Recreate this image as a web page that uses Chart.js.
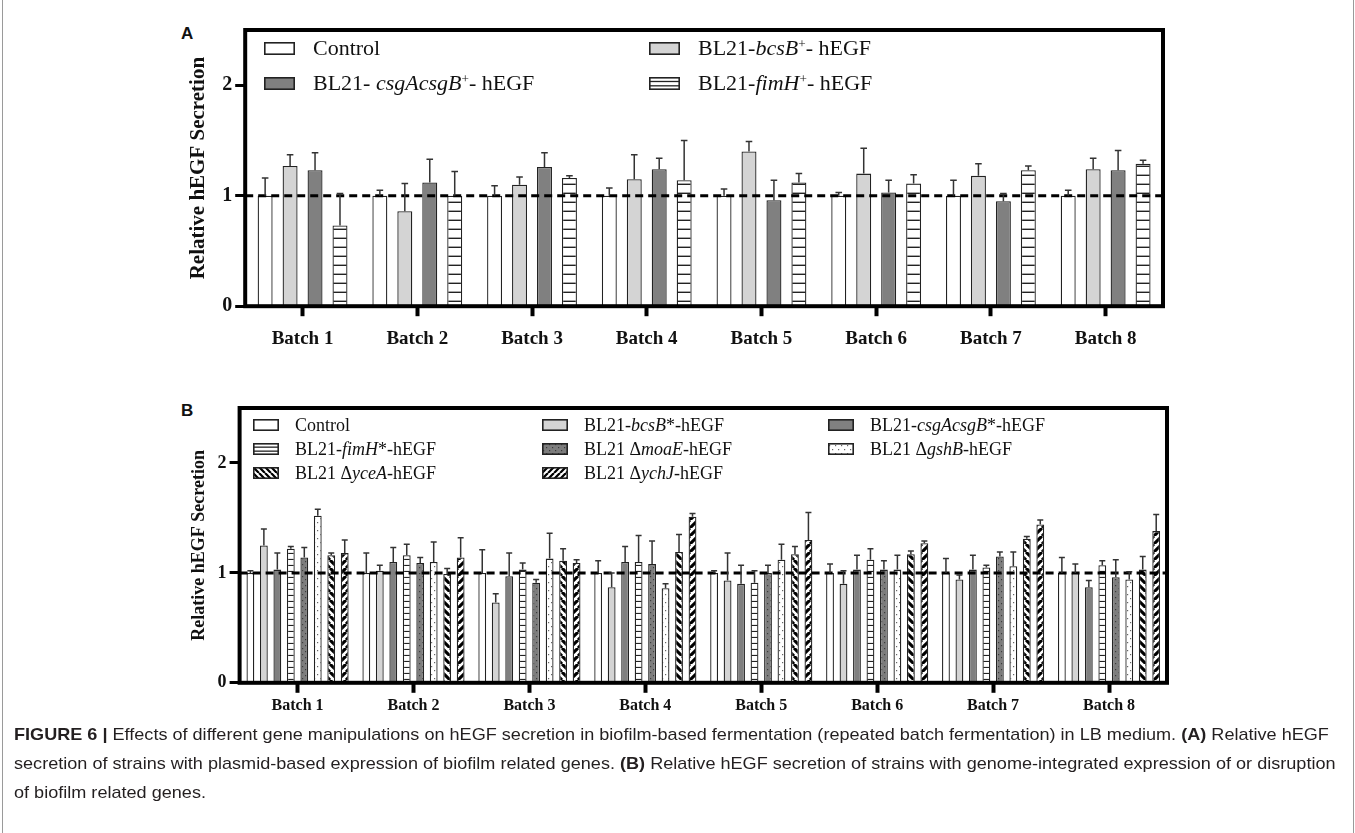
<!DOCTYPE html>
<html>
<head>
<meta charset="utf-8">
<script src="https://cdn.jsdelivr.net/npm/chart.js@4.4.0/dist/chart.umd.min.js"></script>
<style>
  body { margin: 0; background: #fff; width: 1355px; height: 833px; position: relative; overflow: hidden; font-family: "Liberation Serif", serif; color: #111; }
  .frame { position: absolute; left: 2px; top: -2px; width: 1350px; height: 840px; border-left: 1px solid #9a9a9a; border-right: 1px solid #9a9a9a; }
  .panel { position: absolute; }
  .tag { position: absolute; font: bold 17px "Liberation Sans", Arial, sans-serif; }
  .item { position: absolute; display: flex; align-items: center; white-space: nowrap; }
  .item canvas { display: block; }
  .legA { font-size: 22px; }
  .legB { font-size: 18px; }
  sup { font-size: 60%; vertical-align: 0; position: relative; top: -0.55em; }
  .caption { position: absolute; left: 14px; top: 720px; font: 17px "Liberation Sans", Arial, sans-serif; color: #231f20; transform-origin: 0 0; }
  .caption div { white-space: nowrap; height: 29px; line-height: 29px; }
</style>
</head>
<body>
<div class="frame"></div>
<div class="tag" style="left:181px; top:24px;">A</div>
<div class="tag" style="left:181px; top:401px;">B</div>
<div class="panel" style="left:140px; top:14px; width:1040px; height:351px;"><canvas id="chartA"></canvas></div>
<div class="panel" style="left:130px; top:392px; width:1050px; height:330px;"><canvas id="chartB"></canvas></div>
<div id="legends"></div>
<div class="caption" id="caption">
  <div><b>FIGURE 6 |</b> Effects of different gene manipulations on hEGF secretion in biofilm-based fermentation (repeated batch fermentation) in LB medium. <b>(A)</b> Relative hEGF</div>
  <div>secretion of strains with plasmid-based expression of biofilm related genes. <b>(B)</b> Relative hEGF secretion of strains with genome-integrated expression of or disruption</div>
  <div>of biofilm related genes.</div>
</div>
<script>
// ---- data ----
const batches = ['Batch 1', 'Batch 2', 'Batch 3', 'Batch 4', 'Batch 5', 'Batch 6', 'Batch 7', 'Batch 8'];
const yTicks = [0, 1, 2];

// panel A: plasmid-based expression
const namesA = ['Control', 'BL21-<i>bcsB</i><sup>+</sup>- hEGF', 'BL21- <i>csgAcsgB</i><sup>+</sup>- hEGF', 'BL21-<i>fimH</i><sup>+</sup>- hEGF'];
const aControl = [1, 1, 1, 1, 1, 1, 1, 1];
const aControlErr = [0.16, 0.05, 0.09, 0.07, 0.06, 0.03, 0.14, 0.05];
const aBcsB = [1.27, 0.86, 1.10, 1.15, 1.40, 1.20, 1.18, 1.24];
const aBcsBErr = [0.10, 0.25, 0.07, 0.22, 0.09, 0.23, 0.11, 0.10];
const aCsg = [1.23, 1.12, 1.26, 1.24, 0.96, 1.03, 0.95, 1.23];
const aCsgErr = [0.16, 0.21, 0.13, 0.10, 0.18, 0.11, 0.07, 0.18];
const aFimH = [0.73, 1.00, 1.16, 1.14, 1.12, 1.11, 1.23, 1.29];
const aFimHErr = [0.29, 0.22, 0.02, 0.36, 0.08, 0.08, 0.04, 0.03];

// panel B: genome-integrated expression / disruption
const namesB = ['Control', 'BL21-<i>bcsB</i>*-hEGF', 'BL21-<i>csgAcsgB</i>*-hEGF', 'BL21-<i>fimH</i>*-hEGF',
  'BL21 Δ<i>moaE</i>-hEGF', 'BL21 Δ<i>gshB</i>-hEGF', 'BL21 Δ<i>yceA</i>-hEGF', 'BL21 Δ<i>ychJ</i>-hEGF'];
const bControl = [1, 1, 1, 1, 1, 1, 1, 1];
const bControlErr = [0.02, 0.18, 0.21, 0.11, 0.02, 0.08, 0.13, 0.14];
const bBcsB = [1.25, 1.02, 0.73, 0.87, 0.93, 0.90, 0.94, 1.00];
const bBcsBErr = [0.15, 0.05, 0.08, 0.13, 0.25, 0.12, 0.04, 0.08];
const bCsg = [1.03, 1.10, 0.97, 1.10, 0.90, 1.03, 1.03, 0.87];
const bCsgErr = [0.15, 0.13, 0.21, 0.14, 0.17, 0.13, 0.13, 0.06];
const bFimH = [1.22, 1.16, 1.03, 1.10, 0.91, 1.12, 1.05, 1.07];
const bFimHErr = [0.02, 0.10, 0.06, 0.24, 0.11, 0.10, 0.02, 0.04];
const bMoaE = [1.14, 1.09, 0.91, 1.08, 1.00, 1.03, 1.15, 0.96];
const bMoaEErr = [0.09, 0.05, 0.03, 0.21, 0.07, 0.08, 0.04, 0.16];
const bGshB = [1.52, 1.10, 1.13, 0.86, 1.12, 1.03, 1.06, 0.94];
const bGshBErr = [0.06, 0.18, 0.23, 0.04, 0.14, 0.13, 0.13, 0.07];
const bYceA = [1.16, 0.99, 1.11, 1.19, 1.17, 1.17, 1.31, 1.03];
const bYceAErr = [0.02, 0.05, 0.11, 0.16, 0.07, 0.03, 0.02, 0.12];
const bYchJ = [1.18, 1.14, 1.09, 1.51, 1.30, 1.27, 1.44, 1.38];
const bYchJErr = [0.12, 0.18, 0.03, 0.03, 0.25, 0.02, 0.04, 0.15];

// ---- fills ----
function makeFill(kind, p) {
  if (kind === 'white') return '#ffffff';
  if (kind === 'light') return '#d4d4d4';
  if (kind === 'dark') return '#808080';
  const c = document.createElement('canvas');
  const g = c.getContext('2d');
  if (kind === 'hlines') {
    c.width = 4; c.height = p;
    g.fillStyle = '#fff'; g.fillRect(0, 0, 4, p);
    g.fillStyle = '#222'; g.fillRect(0, p - 1.4, 4, 1.4);
  } else if (kind === 'dotsDark') {
    c.width = 6; c.height = 6;
    g.fillStyle = '#7d7d7d'; g.fillRect(0, 0, 6, 6);
    g.fillStyle = '#3c3c3c'; g.fillRect(1, 1, 1.2, 1.2); g.fillRect(4, 4, 1.2, 1.2);
  } else if (kind === 'dotsLight') {
    c.width = 6; c.height = 8;
    g.fillStyle = '#fff'; g.fillRect(0, 0, 6, 8);
    g.fillStyle = '#666'; g.fillRect(1, 2, 1.2, 1.2); g.fillRect(4, 6, 1.2, 1.2);
  } else if (kind === 'back' || kind === 'fwd') {
    c.width = p; c.height = p;
    g.fillStyle = '#fff'; g.fillRect(0, 0, p, p);
    g.strokeStyle = '#000'; g.lineWidth = p * 0.38;
    g.beginPath();
    for (const k of [-p, 0, p]) {
      if (kind === 'back') { g.moveTo(k, 0); g.lineTo(k + p, p); }
      else { g.moveTo(k + p, 0); g.lineTo(k, p); }
    }
    g.stroke();
  }
  return g.createPattern(c, 'repeat');
}

const plain = s => s.replace(/<[^>]+>/g, '');

// error bars, reference line at 1 and box frame
const extras = {
  id: 'extras',
  afterDatasetsDraw(chart) {
    const ctx = chart.ctx, y = chart.scales.y, a = chart.chartArea;
    ctx.save();
    // dashed line at 1
    const y1 = y.getPixelForValue(1);
    ctx.strokeStyle = '#000'; ctx.lineWidth = 3; ctx.setLineDash([8, 5]);
    ctx.beginPath(); ctx.moveTo(a.left, y1); ctx.lineTo(a.right, y1); ctx.stroke();
    ctx.setLineDash([]);
    // error bars (upper only)
    ctx.strokeStyle = '#333'; ctx.lineWidth = 1.5;
    chart.data.datasets.forEach((ds, i) => {
      chart.getDatasetMeta(i).data.forEach((bar, j) => {
        const top = y.getPixelForValue(ds.data[j] + ds.errors[j]);
        const cap = Math.max(3, bar.width * 0.22);
        ctx.beginPath();
        ctx.moveTo(bar.x, bar.y); ctx.lineTo(bar.x, top);
        ctx.moveTo(bar.x - cap, top); ctx.lineTo(bar.x + cap, top);
        ctx.stroke();
      });
    });
    // frame
    ctx.strokeStyle = '#000'; ctx.lineWidth = 4;
    ctx.strokeRect(a.left, a.top, a.right - a.left, a.bottom - a.top);
    ctx.restore();
  }
};

Chart.defaults.font.family = '"Liberation Serif", "Times New Roman", serif';
Chart.defaults.color = '#111';

function buildChart(id, series, cfg) {
  return new Chart(document.getElementById(id), {
    type: 'bar',
    data: {
      labels: batches,
      datasets: series.map(s => ({
        label: plain(s.name),
        data: s.data,
        errors: s.err,
        backgroundColor: s.fill,
        borderColor: '#222',
        borderWidth: 1.3,
        categoryPercentage: cfg.cat,
        barPercentage: cfg.bar
      }))
    },
    options: {
      responsive: true,
      maintainAspectRatio: false,
      animation: false,
      layout: { padding: cfg.padding },
      plugins: { legend: { display: false }, tooltip: { enabled: false } },
      scales: {
        x: {
          grid: { offset: false, drawOnChartArea: false, drawTicks: true, tickLength: 10, tickWidth: 4, tickColor: '#000' },
          border: { display: false },
          ticks: { font: { size: cfg.xFont, weight: 'bold' }, padding: cfg.xPad, maxRotation: 0, color: '#111' }
        },
        y: {
          min: 0, max: 2.5,
          afterBuildTicks: axis => { axis.ticks = yTicks.map(v => ({ value: v })); },
          grid: { drawOnChartArea: false, drawTicks: true, tickLength: 10, tickWidth: 3, tickColor: '#000' },
          border: { display: false },
          ticks: { font: { size: cfg.yFont, weight: 'bold' }, padding: 3, color: '#111' },
          title: { display: true, text: 'Relative hEGF Secretion', font: { size: cfg.titleFont, weight: 'bold' }, padding: cfg.titlePad, color: '#111' }
        }
      }
    },
    plugins: [extras]
  });
}

const seriesA = [
  { name: namesA[0], data: aControl, err: aControlErr, kind: 'white' },
  { name: namesA[1], data: aBcsB, err: aBcsBErr, kind: 'light' },
  { name: namesA[2], data: aCsg, err: aCsgErr, kind: 'dark' },
  { name: namesA[3], data: aFimH, err: aFimHErr, kind: 'hlines' }
];
seriesA.forEach(s => s.fill = makeFill(s.kind, 9));

const seriesB = [
  { name: namesB[0], data: bControl, err: bControlErr, kind: 'white' },
  { name: namesB[1], data: bBcsB, err: bBcsBErr, kind: 'light' },
  { name: namesB[2], data: bCsg, err: bCsgErr, kind: 'dark' },
  { name: namesB[3], data: bFimH, err: bFimHErr, kind: 'hlines' },
  { name: namesB[4], data: bMoaE, err: bMoaEErr, kind: 'dotsDark' },
  { name: namesB[5], data: bGshB, err: bGshBErr, kind: 'dotsLight' },
  { name: namesB[6], data: bYceA, err: bYceAErr, kind: 'back' },
  { name: namesB[7], data: bYchJ, err: bYchJErr, kind: 'fwd' }
];
seriesB.forEach(s => s.fill = makeFill(s.kind, s.kind === 'hlines' ? 6.3 : 8));

buildChart('chartA', seriesA, {
  cat: 0.87, bar: 0.6, xFont: 19, xPad: 11, yFont: 20, titleFont: 21,
  titlePad: { top: 0, bottom: 8 }, padding: { left: 46, top: 16, right: 17, bottom: 4 }
});
buildChart('chartB', seriesB, {
  cat: 0.93, bar: 0.58, xFont: 16, xPad: 3, yFont: 18, titleFont: 18,
  titlePad: { top: 0, bottom: 4 }, padding: { left: 59, top: 16, right: 13, bottom: 4 }
});

// ---- legends (html so gene names can be italic) ----
function legend(series, cols, rows, box, cls) {
  const host = document.getElementById('legends');
  series.forEach((s, i) => {
    const r = Math.floor(i / cols.length), c = i % cols.length;
    const it = document.createElement('div');
    it.className = 'item ' + cls;
    it.style.left = cols[c] + 'px';
    it.style.top = (rows[r] - 15) + 'px';
    it.style.height = '30px';
    const cv = document.createElement('canvas');
    cv.width = box.w; cv.height = box.h;
    const g = cv.getContext('2d');
    if (s.kind === 'hlines') {
      g.fillStyle = '#fff'; g.fillRect(0, 0, box.w, box.h);
      g.fillStyle = '#222';
      g.fillRect(0, box.h / 3 - 0.5, box.w, 1.3); g.fillRect(0, 2 * box.h / 3 - 0.5, box.w, 1.3);
    } else {
      g.fillStyle = makeFill(s.kind, box.h / 2); g.fillRect(0, 0, box.w, box.h);
    }
    g.strokeStyle = '#222'; g.lineWidth = 1.6; g.strokeRect(0.8, 0.8, box.w - 1.6, box.h - 1.6);
    const tx = document.createElement('span');
    tx.innerHTML = s.name;
    tx.style.marginLeft = box.gap + 'px';
    it.appendChild(cv); it.appendChild(tx);
    host.appendChild(it);
  });
}
legend(seriesA, [264, 649], [48, 83], { w: 31, h: 13, gap: 18 }, 'legA');
legend(seriesB, [253, 542, 828], [425, 449, 473], { w: 26, h: 12, gap: 16 }, 'legB');

// fit caption width to the figure
const cap = document.getElementById('caption');
const w1 = cap.children[0].scrollWidth;
cap.style.transform = 'scaleX(' + (1322 / w1) + ')';
</script>
</body>
</html>
